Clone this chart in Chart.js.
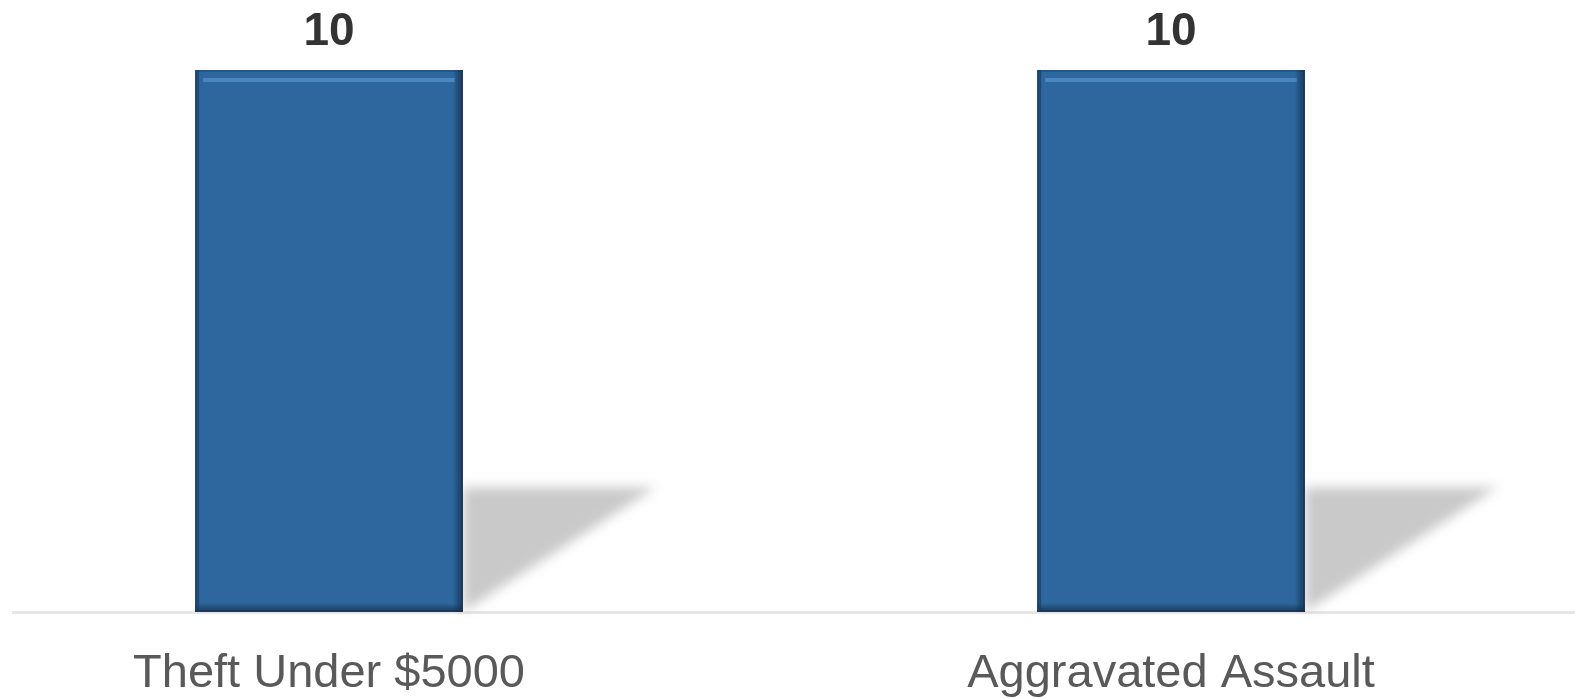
<!DOCTYPE html>
<html>
<head>
<meta charset="utf-8">
<script src="https://cdn.jsdelivr.net/npm/chart.js@4.4.1/dist/chart.umd.min.js"></script>
<style>
  html, body { margin: 0; padding: 0; background: #fff; overflow: hidden; }
  #wrap { position: absolute; left: 12px; top: 0; width: 1563px; height: 699px; overflow: hidden; }
  #box { position: absolute; left: -104px; top: 0; width: 1684px; height: 699px; }
</style>
</head>
<body>
<div id="wrap"><div id="box"><canvas id="crimes"></canvas></div></div>
<script>
  // data
  const categories = ['Theft Under $5000', 'Aggravated Assault'];
  const counts = [10, 10];

  // 그림자 + 베벨 + 값 라벨
  const barDeco = {
    id: 'barDeco',
    beforeDatasetsDraw(chart) {
      const c = chart.ctx;
      const bottom = chart.scales.y.getPixelForValue(0);
      chart.getDatasetMeta(0).data.forEach(bar => {
        const right = bar.x + bar.width / 2;
        const h = bottom - bar.y;
        c.save();
        c.filter = 'blur(6px)';
        c.fillStyle = '#c9c9c9';
        c.beginPath();
        c.moveTo(right, bottom);
        c.lineTo(right, bottom - h * 0.23);
        c.lineTo(right + bar.width * 0.72, bottom - h * 0.23);
        c.closePath();
        c.fill();
        c.restore();
      });
    },
    afterDatasetsDraw(chart) {
      const c = chart.ctx;
      chart.getDatasetMeta(0).data.forEach((bar, i) => {
        const l = bar.x - bar.width / 2, r = bar.x + bar.width / 2;
        const t = bar.y, b = bar.base;
        c.save();
        // 위쪽 하이라이트
        c.fillStyle = '#4a86c0';
        c.fillRect(l + 8, t + 8, bar.width - 16, 4);
        // 오른쪽 어두운 면
        let g = c.createLinearGradient(r - 10, 0, r, 0);
        g.addColorStop(0, 'rgba(20,45,75,0)');
        g.addColorStop(1, 'rgba(20,45,75,0.85)');
        c.fillStyle = g;
        c.fillRect(r - 10, t, 10, b - t);
        // 아래쪽 어두운 면
        g = c.createLinearGradient(0, b - 9, 0, b);
        g.addColorStop(0, 'rgba(20,45,75,0)');
        g.addColorStop(1, 'rgba(20,45,75,0.8)');
        c.fillStyle = g;
        c.fillRect(l, b - 9, bar.width, 9);
        // 왼쪽 테두리
        c.fillStyle = 'rgba(25,60,100,0.7)';
        c.fillRect(l, t, 4, b - t);
        // 값 라벨
        c.fillStyle = '#333333';
        c.font = 'bold 46px "Liberation Sans", Arial, sans-serif';
        c.textAlign = 'center';
        c.textBaseline = 'middle';
        c.fillText(String(counts[i]), bar.x, t - 38);
        c.restore();
      });
    }
  };

  const ctx = document.getElementById('crimes');

  new Chart(ctx, {
    type: 'bar',
    data: {
      labels: categories,
      datasets: [{
        data: counts,
        backgroundColor: '#2d679e',
        borderColor: '#245789',
        borderWidth: 2,
        borderSkipped: false,
        categoryPercentage: 1,
        barPercentage: 0.318
      }]
    },
    options: {
      responsive: true,
      maintainAspectRatio: false,
      animation: false,
      layout: { padding: { top: 70, bottom: 0, left: 0, right: 0 } },
      plugins: { legend: { display: false }, tooltip: { enabled: false } },
      scales: {
        y: { display: false, min: 0, max: 10 },
        x: {
          grid: { display: false },
          border: { color: '#e6e6e6', width: 3 },
          afterFit(scale) { scale.height = 87; },
          ticks: {
            color: '#595959',
            padding: 26,
            maxRotation: 0,
            font: { size: 47, family: '"Liberation Sans", Arial, sans-serif' }
          }
        }
      }
    },
    plugins: [barDeco]
  });
</script>
</body>
</html>
